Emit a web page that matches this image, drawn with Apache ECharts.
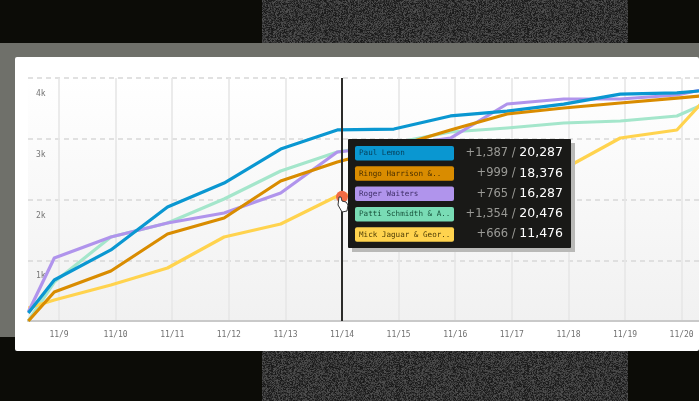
<!DOCTYPE html>
<html>
<head>
<meta charset="utf-8">
<title>Cumulative totals</title>
<script src="https://cdn.jsdelivr.net/npm/echarts@6/dist/echarts.min.js"></script>
<style>
  html, body { margin: 0; padding: 0; width: 699px; height: 401px; overflow: hidden; background: #0c0c07; }
  .noise { position: absolute; left: 262px; width: 366px; }
  #band { position: absolute; left: 0; top: 43px; width: 699px; height: 294px; background: #6f706a; }
  #card { position: absolute; left: 15px; top: 57px; width: 684px; height: 294px; background: #fff; border-radius: 2px; }
  #chart { position: absolute; left: 0; top: 0; width: 699px; height: 401px; }
</style>
</head>
<body>
<div class="noise" id="noiseTop" style="top:0;height:43px"></div>
<div class="noise" id="noiseBottom" style="top:337px;height:64px"></div>
<div id="band"></div>
<div id="card"></div>
<div id="chart"></div>
<script>
const dates = [
  '2021-11-08T11:00', '2021-11-08T22:00', '2021-11-09T22:00', '2021-11-10T22:00',
  '2021-11-11T22:00', '2021-11-12T22:00', '2021-11-13T22:00', '2021-11-14T22:00',
  '2021-11-15T22:00', '2021-11-16T22:00', '2021-11-17T22:00', '2021-11-18T22:00',
  '2021-11-19T22:00', '2021-11-20T22:00'
]
const paul = [132, 675, 1170, 1875, 2270, 2830, 3145, 3160, 3375, 3455, 3570, 3735, 3755, 3835]
const ringo = [0, 477, 823, 1432, 1695, 2305, 2617, 2864, 3144, 3407, 3506, 3588, 3670, 3753]
const roger = [148, 1037, 1383, 1613, 1778, 2107, 2782, 2881, 3012, 3572, 3654, 3654, 3720, 3918]
const patti = [0, 642, 1383, 1613, 2008, 2469, 2782, 2930, 3111, 3177, 3259, 3292, 3374, 3786]
const mick = [214, 346, 593, 872, 1383, 1597, 2058, 2156, 2321, 2453, 2502, 3012, 3144, 4165]

const tipNames = ['Paul Lemon', 'Ringo Harrison &..', 'Roger Waiters', 'Patti Schmidth & A..', 'Mick Jaguar & Geor..']
const tipDeltas = ['+1,387', '+999', '+765', '+1,354', '+666']
const tipTotals = ['20,287', '18,376', '16,287', '20,476', '11,476']
const chipColors = ['#0a97d1', '#d98c00', '#b094ec', '#79dcb5', '#ffd34e']
const chipText = ['#07405a', '#4a3000', '#3f2f68', '#17513a', '#4d3c05']

const hoverDate = '2021-11-14T00:00'
const hoverValue = 2045

// grainy texture behind the card, top and bottom
function noiseUrl() {
  const c = document.createElement('canvas')
  c.width = 128
  c.height = 128
  const ctx = c.getContext('2d')
  const img = ctx.createImageData(128, 128)
  let s = 12345
  for (let i = 0; i < img.data.length; i += 4) {
    s = (s * 1103515245 + 12345) & 0x7fffffff
    const v = 22 + ((s >> 12) % 60)
    img.data[i] = v
    img.data[i + 1] = v
    img.data[i + 2] = v
    img.data[i + 3] = 255
  }
  ctx.putImageData(img, 0, 0)
  return c.toDataURL()
}
const noise = noiseUrl()
document.getElementById('noiseTop').style.background = 'url(' + noise + ')'
document.getElementById('noiseBottom').style.background = 'url(' + noise + ')'

function line(name, values, color) {
  return {
    name: name,
    type: 'line',
    data: dates.map((d, i) => [d, values[i]]),
    symbol: 'none',
    silent: true,
    lineStyle: { color: color, width: 3.2, join: 'round' }
  }
}

// tooltip panel is fixed in the screenshot, so it is drawn as graphic elements
const tipX = 348
const tipY = 139
const tipZ = 100
const tipElements = [
  { type: 'rect', z: tipZ, silent: true, shape: { x: tipX + 4, y: tipY + 4, width: 223, height: 109 }, style: { fill: '#b9b9b7' } },
  { type: 'rect', z: tipZ + 1, silent: true, shape: { x: tipX, y: tipY, width: 223, height: 109, r: 1 }, style: { fill: '#191917' } }
]
tipNames.forEach((name, i) => {
  const y = tipY + 7 + i * 20.3
  tipElements.push({
    type: 'rect',
    z: tipZ + 2,
    silent: true,
    shape: { x: tipX + 7, y: y, width: 99, height: 14.5, r: 2 },
    style: { fill: chipColors[i] }
  })
  tipElements.push({
    type: 'text',
    z: tipZ + 3,
    silent: true,
    x: tipX + 11,
    y: y + 7.5,
    style: {
      text: name,
      fill: chipText[i],
      font: '7.6px "DejaVu Sans Mono"',
      verticalAlign: 'middle'
    }
  })
  tipElements.push({
    type: 'text',
    z: tipZ + 3,
    silent: true,
    x: tipX + 215,
    y: y + 7,
    style: {
      text: '{d|' + tipDeltas[i] + ' / }{t|' + tipTotals[i] + '}',
      align: 'right',
      verticalAlign: 'middle',
      rich: {
        d: { fill: '#9a9a96', font: '11.5px "DejaVu Sans"' },
        t: { fill: '#ffffff', font: '12.5px "DejaVu Sans"' }
      }
    }
  })
})

const myChart = echarts.init(document.getElementById('chart'))
const series = [
  line('Patti Schmidth & A..', patti, '#a4e6cb'),
  line('Mick Jaguar & Geor..', mick, '#ffd34e'),
  line('Roger Waiters', roger, '#b094ec'),
  line('Paul Lemon', paul, '#0a97d1'),
  line('Ringo Harrison &..', ringo, '#d98c00')
]
series[0].markLine = {
  silent: true,
  symbol: 'none',
  label: { show: false },
  lineStyle: { color: '#2c2c2a', width: 2, type: 'solid' },
  data: [{ xAxis: hoverDate }]
}
series.push({
  type: 'scatter',
  data: [[hoverDate, hoverValue]],
  symbolSize: 12,
  silent: true,
  z: 5,
  itemStyle: { color: '#f26b43', opacity: 1 }
})

myChart.setOption({
  animation: false,
  grid: {
    left: 28,
    right: 0,
    top: 78,
    bottom: 80,
    show: true,
    borderWidth: 0,
    backgroundColor: new echarts.graphic.LinearGradient(0, 0, 0, 1, [
      { offset: 0, color: '#ffffff' },
      { offset: 1, color: '#f1f1f1' }
    ])
  },
  xAxis: {
    type: 'time',
    min: '2021-11-08T10:51',
    max: '2021-11-20T07:22',
    minInterval: 86400000,
    maxInterval: 86400000,
    axisLine: { lineStyle: { color: '#c9c9c9', width: 2 } },
    axisTick: { show: false },
    axisLabel: {
      showMinLabel: false,
      showMaxLabel: false,
      margin: 10,
      color: '#707070',
      fontFamily: 'DejaVu Sans Mono',
      fontSize: 8,
      formatter: (v) => {
        const d = new Date(v)
        return (d.getMonth() + 1) + '/' + d.getDate()
      }
    },
    splitLine: { show: true, showMinLine: false, showMaxLine: false, lineStyle: { color: '#e6e6e6', width: 1.6 } }
  },
  yAxis: {
    type: 'value',
    min: 0,
    max: 4000,
    interval: 1000,
    axisLine: { show: false },
    axisTick: { show: false },
    axisLabel: {
      inside: true,
      margin: 8,
      color: '#777',
      fontFamily: 'DejaVu Sans Mono',
      fontSize: 8,
      verticalAlign: 'top',
      padding: [12, 0, 0, 0],
      formatter: (v) => (v ? v / 1000 + 'k' : '')
    },
    splitLine: { lineStyle: { color: '#d8d8d8', width: 1.5, type: [5, 4] } }
  },
  series: series,
  graphic: [
    { type: 'group', silent: true, children: tipElements },
    {
      // hand cursor over the hovered point
      type: 'polygon',
      z: 110,
      silent: true,
      shape: { points: [[339, 197], [341, 197], [342, 201], [346, 202], [348, 205], [347, 211], [342, 212], [338, 205]] },
      style: { fill: '#fff', stroke: '#333', lineWidth: 1 }
    }
  ]
})
</script>
</body>
</html>
